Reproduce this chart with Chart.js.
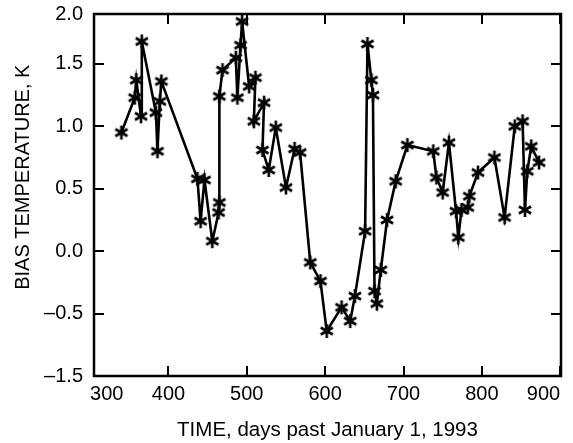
<!DOCTYPE html>
<html>
<head>
<meta charset="utf-8">
<script src="https://cdn.jsdelivr.net/npm/chart.js@4/dist/chart.umd.min.js"></script>
<style>
html,body{margin:0;padding:0;background:#fff;}
#wrap{width:573px;height:443px;position:relative;}
</style>
</head>
<body>
<div id="wrap"><canvas id="c" width="573" height="443"></canvas></div>
<script>
// ---- data (days past January 1, 1993 ; bias temperature, K) ----
const days = [340,357,359,365,366,384,386,389,391,437,441,446,456,464,465,465,469,486,488,492,494,503,511,509,522,520,528,537,550,561,568,581,594,602,621,632,638,651,654,659,661,663,666,671,679,690,705,738,742,750,758,767,770,774,782,784,795,816,829,842,852,855,858,863,873];
const bias = [0.95,1.23,1.37,1.08,1.68,1.11,0.80,1.20,1.36,0.58,0.24,0.57,0.08,0.31,0.39,1.24,1.45,1.55,1.23,1.65,1.84,1.32,1.39,1.04,1.19,0.81,0.65,0.99,0.51,0.82,0.79,-0.09,-0.24,-0.64,-0.45,-0.56,-0.36,0.16,1.66,1.37,1.25,-0.32,-0.42,-0.15,0.25,0.56,0.85,0.80,0.59,0.47,0.87,0.32,0.11,0.33,0.35,0.44,0.63,0.75,0.27,1.00,1.04,0.33,0.64,0.84,0.71];

const xTickValues = [300,400,500,600,700,800,900];
const xTickLabels = ['300','400','500','600','700','800','900'];
const yTickValues = [-1.0,-0.5,0.0,0.5,1.0,1.5,1.9];
const yTickLabels = ['\u20131.5','\u20130.5','0.0','0.5','1.0','1.5','2.0'];
const xTitle = 'TIME, days past January 1, 1993';
const yTitle = 'BIAS TEMPERATURE, K';

// ---- asterisk marker ----
function makeStar(){
  const s = 18, c = document.createElement('canvas');
  c.width = s; c.height = s;
  const g = c.getContext('2d');
  g.strokeStyle = '#000'; g.lineWidth = 2.6; g.lineCap = 'butt';
  const r = 7, cx = s/2, cy = s/2;
  for (let i = 0; i < 3; i++){
    const a = Math.PI/2 + i*Math.PI/3;
    g.beginPath();
    g.moveTo(cx + r*Math.cos(a), cy + r*Math.sin(a));
    g.lineTo(cx - r*Math.cos(a), cy - r*Math.sin(a));
    g.stroke();
  }
  return c;
}
const star = makeStar();

const points = days.map((d,i)=>({x:d, y:bias[i]}));

const framePlugin = {
  id: 'frame',
  afterDatasetsDraw(chart){
    const {ctx, chartArea:a, scales:{x, y}} = chart;
    ctx.save();
    ctx.strokeStyle = '#000';
    ctx.lineWidth = 2.5;
    ctx.strokeRect(a.left, a.top, a.right - a.left, a.bottom - a.top);
    ctx.lineWidth = 2;
    const L = 10;
    xTickValues.forEach(v => {
      if (v <= x.min || v >= x.max) return;
      const px = Math.round(x.getPixelForValue(v));
      ctx.beginPath();
      ctx.moveTo(px, a.bottom); ctx.lineTo(px, a.bottom - L);
      ctx.moveTo(px, a.top); ctx.lineTo(px, a.top + L);
      ctx.stroke();
    });
    yTickValues.forEach(v => {
      if (v <= y.min || v >= y.max) return;
      const py = Math.round(y.getPixelForValue(v));
      ctx.beginPath();
      ctx.moveTo(a.left, py); ctx.lineTo(a.left + L, py);
      ctx.moveTo(a.right, py); ctx.lineTo(a.right - L, py);
      ctx.stroke();
    });
    ctx.restore();
  }
};

const FONT = "'Liberation Sans', Arial, Helvetica, sans-serif";

new Chart(document.getElementById('c'), {
  type: 'line',
  data: {
    datasets: [{
      data: points,
      borderColor: '#000',
      borderWidth: 2.6,
      pointStyle: star,
      pointRadius: 8,
      pointHoverRadius: 8,
      tension: 0,
      fill: false
    }]
  },
  plugins: [framePlugin],
  options: {
    responsive: false,
    animation: false,
    events: [],
    layout: { padding: { top: 14, right: 12, left: 0, bottom: 0 } },
    plugins: { legend: { display: false }, tooltip: { enabled: false } },
    scales: {
      x: {
        type: 'linear',
        min: 305, max: 901,
        grid: { display: false, drawTicks: false },
        border: { display: false },
        afterBuildTicks(scale){ scale.ticks = xTickValues.map(v => ({value: v})); },
        afterFit(scale){ scale.height = 67; scale.paddingLeft = 0; scale.paddingRight = 0; },
        ticks: {
          color: '#000', font: { family: FONT, size: 20 }, padding: 6,
          align: 'inner', maxRotation: 0, autoSkip: false,
          callback(v){ const i = xTickValues.indexOf(v); return i >= 0 ? xTickLabels[i] : ''; }
        },
        title: {
          display: true, text: xTitle, color: '#000',
          font: { family: FONT, size: 20.5 }, padding: { top: 0, bottom: 0 }
        }
      },
      y: {
        type: 'linear',
        min: -1.0, max: 1.9,
        grid: { display: false, drawTicks: false },
        border: { display: false },
        afterBuildTicks(scale){ scale.ticks = yTickValues.map(v => ({value: v})); },
        afterFit(scale){ scale.width = 94; scale.paddingTop = 0; scale.paddingBottom = 0; },
        ticks: {
          color: '#000', font: { family: FONT, size: 20 }, padding: 11, autoSkip: false,
          callback(v){ const i = yTickValues.indexOf(v); return i >= 0 ? yTickLabels[i] : ''; }
        },
        title: {
          display: true, text: '\u2002\u2002\u2002 ' + yTitle, color: '#000',
          font: { family: FONT, size: 20 }, padding: { top: 11, bottom: 0 }
        }
      }
    }
  }
});
</script>
</body>
</html>
